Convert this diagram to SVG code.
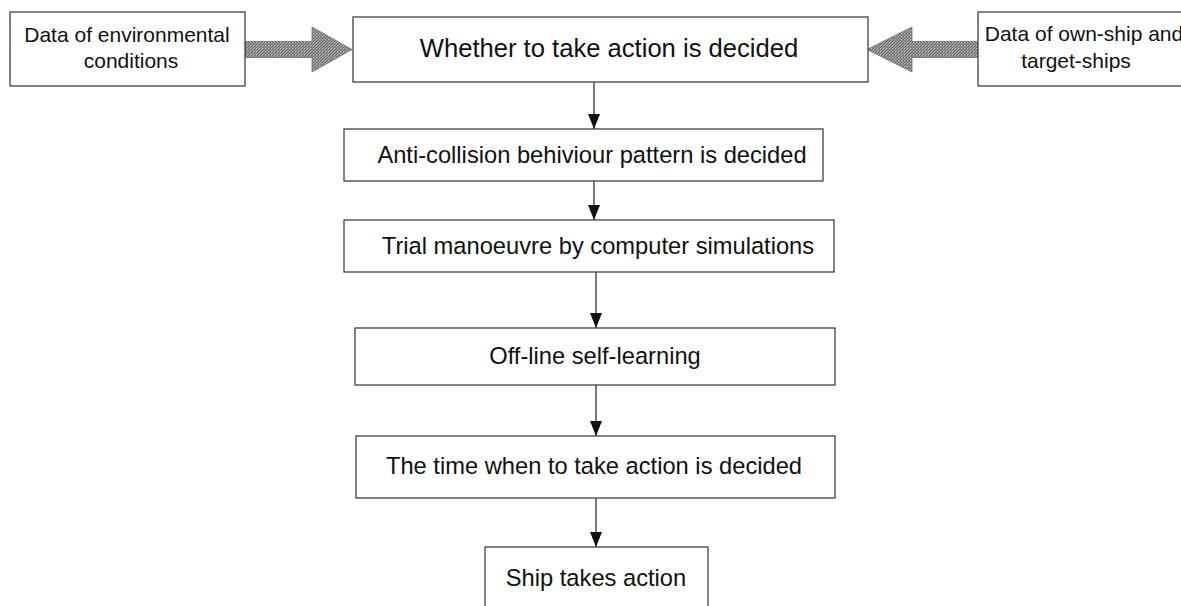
<svg xmlns="http://www.w3.org/2000/svg" width="1181" height="606" viewBox="0 0 1181 606">
  <style>
    .box { fill: #ffffff; stroke: #333333; stroke-width: 1.2; }
    .main { font-family: "Liberation Sans", Arial, sans-serif; font-size: 23.7px; fill: #111111; text-anchor: middle; }
    .big { font-size: 25.6px; }
    .side { font-family: "Liberation Sans", Arial, sans-serif; font-size: 21px; fill: #111111; text-anchor: middle; }
    .conn { stroke: #222222; stroke-width: 1.2; fill: none; }
    .fat { fill: url(#halftone); stroke: #707070; stroke-width: 0.8; }
  </style>
  <defs>
    <pattern id="halftone" width="3" height="3" patternUnits="userSpaceOnUse">
      <rect width="3" height="3" fill="#9a9a9a"/>
      <rect x="0" y="0" width="1" height="1" fill="#5e5e5e"/>
      <rect x="2" y="1" width="1" height="1" fill="#666666"/>
      <rect x="1" y="2" width="1" height="1" fill="#626262"/>
      <rect x="1" y="0" width="1" height="1" fill="#c4c4c4"/>
    </pattern>
    <marker id="arrow" markerUnits="userSpaceOnUse" markerWidth="15" markerHeight="12" refX="15" refY="6" orient="auto" viewBox="0 0 15 12">
      <path d="M0,0 L15,6 L0,12 z" fill="#111111"/>
    </marker>
  </defs>

  <g id="connectors">
    <path id="fat-left" class="fat" d="M244,41.5 L312,41.5 L312,27 L352,49.5 L312,72 L312,57.5 L244,57.5 A8,8 0 0 1 244,41.5 z"/>
    <path id="fat-right" class="fat" d="M975,41.5 L912,41.5 L912,27 L867,49.5 L912,72 L912,57.5 L975,57.5 A8,8 0 0 0 975,41.5 z"/>
    <line class="conn" x1="594" y1="82" x2="594" y2="129" marker-end="url(#arrow)"/>
    <line class="conn" x1="594" y1="181" x2="594" y2="220" marker-end="url(#arrow)"/>
    <line class="conn" x1="596" y1="272" x2="596" y2="328" marker-end="url(#arrow)"/>
    <line class="conn" x1="596" y1="385" x2="596" y2="436" stroke-width="2.6" marker-end="url(#arrow)"/>
    <line class="conn" x1="596" y1="498" x2="596" y2="547" marker-end="url(#arrow)"/>
  </g>

  <g id="node-env">
    <rect class="box" x="10" y="12" width="235" height="74"/>
    <text class="side" x="127" y="42">Data of environmental</text>
    <text class="side" x="131" y="68">conditions</text>
  </g>

  <g id="node-ships">
    <rect class="box" x="978" y="12" width="210" height="74"/>
    <text class="side" x="1084" y="41">Data of own-ship and</text>
    <text class="side" x="1076" y="68">target-ships</text>
  </g>

  <g id="node-whether">
    <rect class="box" x="353" y="17" width="515" height="65"/>
    <text class="main big" x="609" y="57">Whether to take action is decided</text>
  </g>

  <g id="node-pattern">
    <rect class="box" x="344" y="129" width="479" height="52"/>
    <text class="main" x="592" y="163">Anti-collision behiviour pattern is decided</text>
  </g>

  <g id="node-trial">
    <rect class="box" x="344" y="220" width="490" height="52"/>
    <text class="main" x="598" y="254">Trial manoeuvre by computer simulations</text>
  </g>

  <g id="node-offline">
    <rect class="box" x="355" y="328" width="480" height="57"/>
    <text class="main" x="595" y="364">Off-line self-learning</text>
  </g>

  <g id="node-time">
    <rect class="box" x="356" y="436" width="479" height="62"/>
    <text class="main" x="594" y="474">The time when to take action is decided</text>
  </g>

  <g id="node-ship">
    <rect class="box" x="485" y="547" width="223" height="70"/>
    <text class="main" x="596" y="586">Ship takes action</text>
  </g>
</svg>
